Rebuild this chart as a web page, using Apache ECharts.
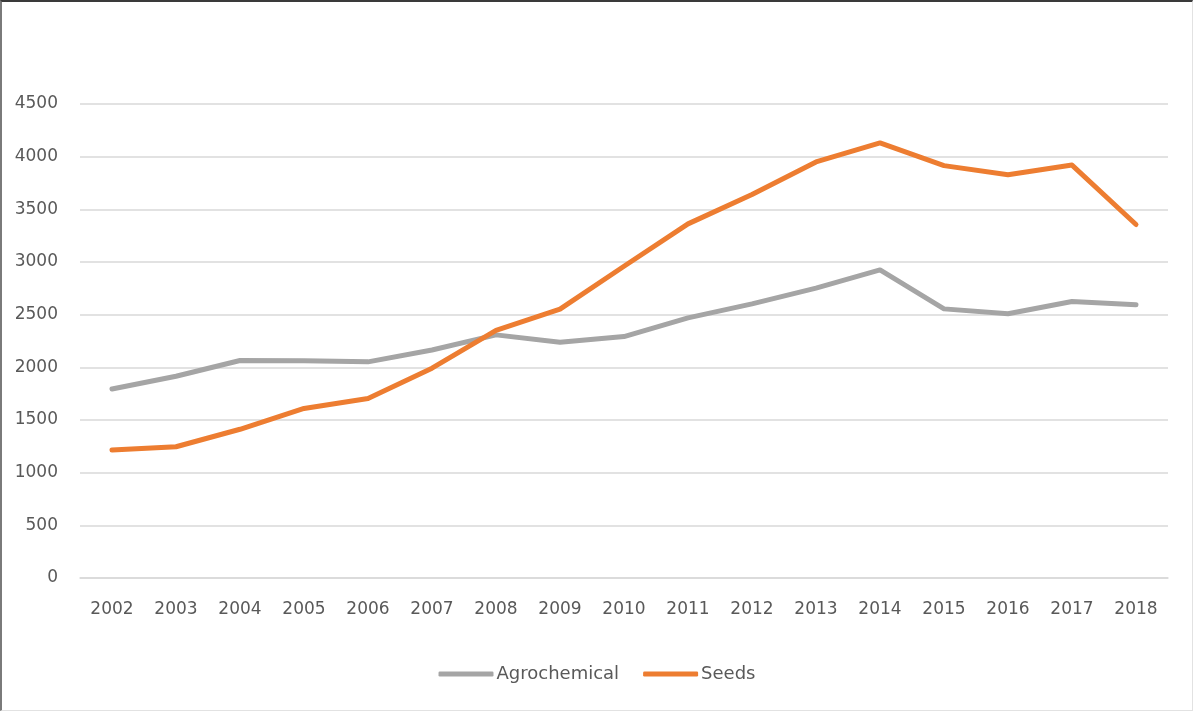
<!DOCTYPE html>
<html>
<head>
<meta charset="utf-8">
<script src="https://cdn.jsdelivr.net/npm/echarts@6/dist/echarts.min.js"></script>
<style>
  html, body { margin: 0; padding: 0; background: #fff; }
  #chart {
    position: absolute; left: 0; top: 0;
    width: 1193px; height: 711px;
    box-sizing: border-box;
    border-top: 2px solid #3a3a3a;
    border-left: 2px solid #7a7a7a;
    border-right: 1px solid #e2e2e2;
    border-bottom: 1px solid #e2e2e2;
  }
</style>
</head>
<body>
<div id="chart"></div>
<script>
const years = ['2002', '2003', '2004', '2005', '2006', '2007', '2008', '2009', '2010',
  '2011', '2012', '2013', '2014', '2015', '2016', '2017', '2018'];
const agrochemical = [1795, 1915, 2065, 2062, 2052, 2165, 2308, 2238, 2292,
  2470, 2602, 2752, 2925, 2555, 2508, 2625, 2594];
const seeds = [1215, 1246, 1412, 1610, 1705, 1992, 2350, 2553, 2960,
  3362, 3640, 3950, 4130, 3915, 3828, 3920, 3356];

const chart = echarts.init(document.getElementById('chart'));
const font = '"DejaVu Sans", sans-serif';

const option = {
  backgroundColor: '#fff',
  animation: false,
  textStyle: { fontFamily: font },
  grid: { left: 78, right: 24, top: 102, bottom: 132 },
  legend: {
    bottom: 22,
    left: 'center',
    itemWidth: 55,
    itemHeight: 5,
    itemGap: 24,
    icon: 'roundRect',
    textStyle: { color: '#595959', fontSize: 18, fontFamily: font, padding: [0, 0, 0, -2] },
    data: ['Agrochemical', 'Seeds']
  },
  xAxis: {
    type: 'category',
    data: years,
    boundaryGap: true,
    axisLine: { lineStyle: { color: '#d9d9d9', width: 1.5 } },
    axisTick: { show: false },
    axisLabel: { color: '#595959', fontSize: 17, margin: 23, fontFamily: font }
  },
  yAxis: {
    type: 'value',
    min: 0,
    max: 4500,
    interval: 500,
    axisLine: { show: false },
    axisTick: { show: false },
    axisLabel: {
      color: '#595959', fontSize: 17, margin: 22, fontFamily: font,
      formatter: function (v) { return String(v); }
    },
    splitLine: { lineStyle: { color: '#d9d9d9', width: 1.5 } }
  },
  series: [
    {
      name: 'Agrochemical',
      type: 'line',
      data: agrochemical,
      symbol: 'none',
      color: '#a5a5a5',
      lineStyle: { color: '#a5a5a5', width: 5, cap: 'round', join: 'round' }
    },
    {
      name: 'Seeds',
      type: 'line',
      data: seeds,
      symbol: 'none',
      color: '#ed7d31',
      lineStyle: { color: '#ed7d31', width: 5, cap: 'round', join: 'round' }
    }
  ]
};

chart.setOption(option);
</script>
</body>
</html>
